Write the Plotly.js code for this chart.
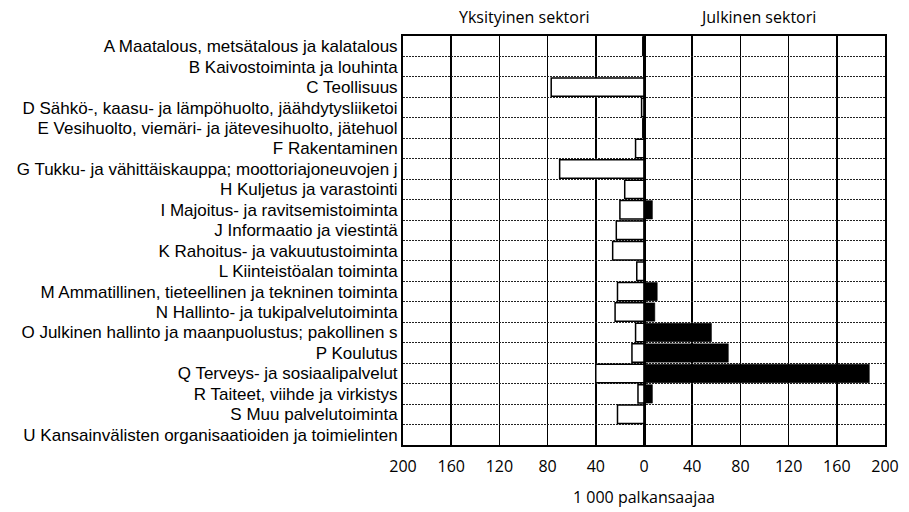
<!DOCTYPE html>
<html>
<head>
<meta charset="utf-8">
<script src="https://cdn.plot.ly/plotly-3.0.1.min.js"></script>
<style>html,body{margin:0;padding:0;background:#fff;}#chart{width:909px;height:512px;}</style>
</head>
<body>
<div id="chart"></div>
<script>
const categories = [
  "A Maatalous, metsätalous ja kalatalous",
  "B Kaivostoiminta ja louhinta",
  "C Teollisuus",
  "D Sähkö-, kaasu- ja lämpöhuolto, jäähdytysliiketoi",
  "E Vesihuolto, viemäri- ja jätevesihuolto, jätehuol",
  "F Rakentaminen",
  "G Tukku- ja vähittäiskauppa; moottoriajoneuvojen j",
  "H Kuljetus ja varastointi",
  "I Majoitus- ja ravitsemistoiminta",
  "J Informaatio ja viestintä",
  "K Rahoitus- ja vakuutustoiminta",
  "L Kiinteistöalan toiminta",
  "M Ammatillinen, tieteellinen ja tekninen toiminta",
  "N Hallinto- ja tukipalvelutoiminta",
  "O Julkinen hallinto ja maanpuolustus; pakollinen s",
  "P Koulutus",
  "Q Terveys- ja sosiaalipalvelut",
  "R Taiteet, viihde ja virkistys",
  "S Muu palvelutoiminta",
  "U Kansainvälisten organisaatioiden ja toimielinten"
];
const privateSector = [1, 0, 77, 2, 1, 7, 70, 16, 20, 23, 26, 6, 22, 24, 7, 10, 40, 5, 22, 0];
const publicSector  = [1, 0, 0, 0, 0, 0, 0, 0, 7, 0, 0, 0, 11, 9, 56, 70, 187, 7, 0, 0];
const tickValues = [-200, -160, -120, -80, -40, 0, 40, 80, 120, 160, 200];
const tickLabels = ["200", "160", "120", "80", "40", "0", "40", "80", "120", "160", "200"];
const privateTitle = "Yksityinen sektori";
const publicTitle = "Julkinen sektori";
const xTitle = "1 000 palkansaajaa";

const traces = [
  {
    type: 'bar', orientation: 'h', name: privateTitle,
    y: categories, x: privateSector.map(v => -v),
    marker: {color: '#ffffff', line: {color: '#000000', width: 1.5}},
    hoverinfo: 'skip'
  },
  {
    type: 'bar', orientation: 'h', name: publicTitle,
    y: categories, x: publicSector,
    marker: {color: '#000000', line: {color: '#000000', width: 0.5}},
    hoverinfo: 'skip'
  }
];

const layout = {
  width: 909, height: 512,
  margin: {l: 403, r: 24, t: 36, b: 67, pad: 0},
  paper_bgcolor: '#ffffff', plot_bgcolor: '#ffffff',
  showlegend: false,
  barmode: 'relative', bargap: 0.1,
  xaxis: {
    range: [-200, 200],
    tickmode: 'array', tickvals: tickValues, ticktext: tickLabels,
    showgrid: true, gridcolor: '#000000', gridwidth: 1.5,
    zeroline: true, zerolinecolor: '#000000', zerolinewidth: 3,
    showline: true, linecolor: '#000000', linewidth: 2, mirror: true,
    ticks: 'outside', ticklen: 6, tickcolor: 'rgba(0,0,0,0)',
    tickfont: {family: 'Open Sans', size: 16, color: '#000000'},
    fixedrange: true
  },
  yaxis: {
    type: 'category', autorange: 'reversed',
    tickson: 'boundaries',
    showgrid: true, gridcolor: '#222222', gridwidth: 1, griddash: '2px,1px',
    showline: true, linecolor: '#000000', linewidth: 2, mirror: true,
    ticks: 'outside', ticklen: 4, tickcolor: 'rgba(0,0,0,0)',
    tickfont: {family: 'Liberation Sans', size: 17, color: '#000000'},
    fixedrange: true
  },
  annotations: [
    {text: privateTitle, xref: 'x', x: -100, yref: 'paper', y: 1, yanchor: 'bottom', yshift: 6,
     showarrow: false, font: {family: 'Open Sans', size: 16, color: '#000000'}},
    {text: publicTitle, xref: 'x', x: 95, yref: 'paper', y: 1, yanchor: 'bottom', yshift: 6,
     showarrow: false, font: {family: 'Open Sans', size: 16, color: '#000000'}},
    {text: xTitle, xref: 'x', x: 0, yref: 'paper', y: 0, yanchor: 'middle', yshift: -52,
     showarrow: false, font: {family: 'Open Sans', size: 16, color: '#000000'}}
  ]
};

Plotly.newPlot('chart', traces, layout, {displayModeBar: false, staticPlot: true});
</script>
</body>
</html>
